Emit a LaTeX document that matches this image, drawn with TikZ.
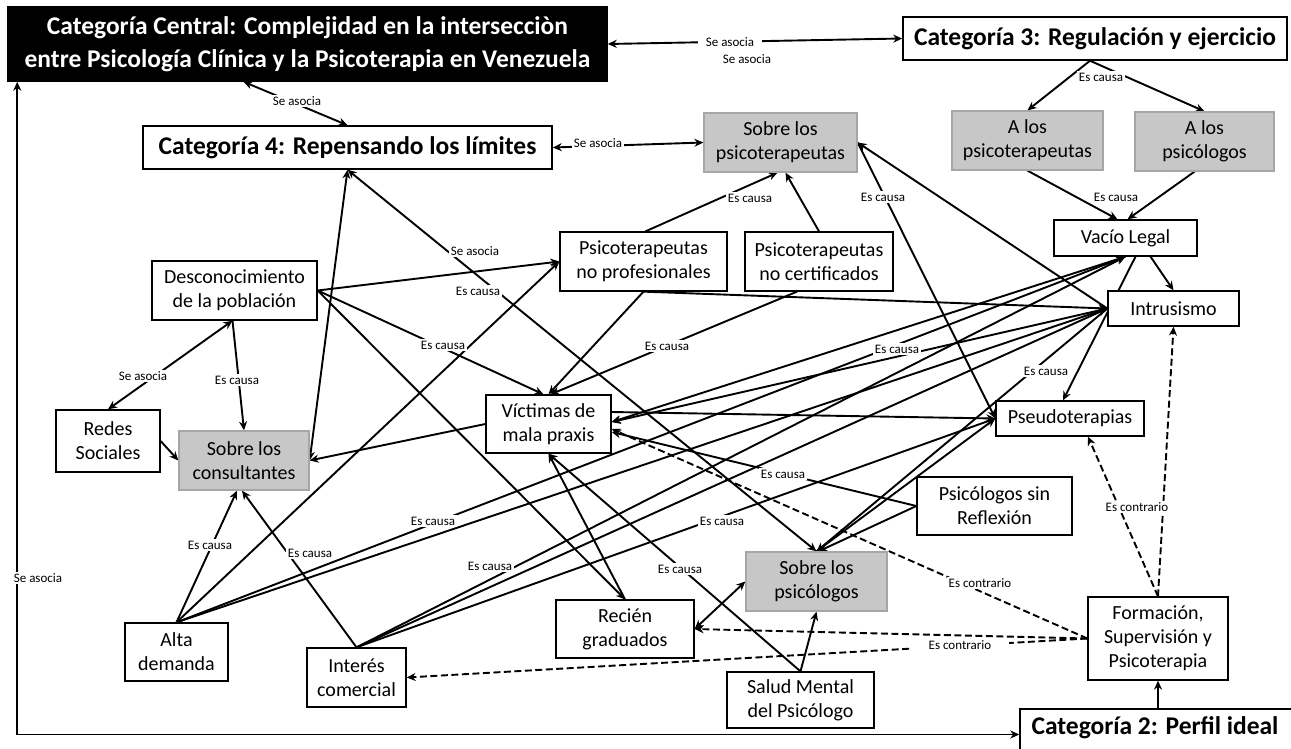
\documentclass[tikz,border=0pt]{standalone}
\usepackage{fontspec}
\setmainfont{Carlito}
\usetikzlibrary{arrows.meta,calc}
\pgfdeclarelayer{bg}
\pgfsetlayers{bg,main}
\begin{document}
\begin{tikzpicture}[x=1pt,y=-1pt,
  box/.style={draw=black,line width=1.3pt,fill=white,inner sep=0pt,align=center,font=\fontsize{20}{24}\selectfont},
  gbox/.style={box,draw=black!35,fill=black!22},
  cat/.style={draw=black,line width=1.5pt,fill=white,inner sep=0pt,align=center,font=\bfseries\fontsize{25.5}{33}\selectfont},
  lab/.style={fill=white,inner sep=1.5pt,font=\fontsize{13}{15}\selectfont},
  tip/.style={},
  conn/.style={line width=1.9pt,-{Stealth[length=9pt,width=8pt]}},
  both/.style={line width=1.9pt,{Stealth[length=9pt,width=8pt]}-{Stealth[length=9pt,width=8pt]}},
  contra/.style={conn,dash pattern=on 7pt off 3.5pt},
]
\useasboundingbox (0,0) rectangle (1291,749);

% nodes
\node[cat,fill=black,text=white,minimum width=599pt,minimum height=74pt] (cen) at (307.5,44) {Categoría Central: Complejidad en la intersecciòn\\entre Psicología Clínica y la Psicoterapia en Venezuela};
\node[cat,minimum width=384pt,minimum height=43pt] (cat3) at (1095,38.5) {Categoría 3: Regulación y ejercicio};
\node[cat,minimum width=409pt,minimum height=43pt] (cat4) at (347.5,147.5) {Categoría 4: Repensando los límites};
\node[cat,minimum width=280pt,minimum height=51pt] (cat2) at (1160,734.5) {};
\node[font=\bfseries\fontsize{25.5}{33}\selectfont,inner sep=0pt] (cat2t) at (1155,728) {Categoría 2: Perfil ideal};

\node[gbox,minimum width=153pt,minimum height=59pt] (spt) at (780.5,142.5) {Sobre los\\psicoterapeutas};
\node[gbox,minimum width=151pt,minimum height=59pt] (apt) at (1027.5,140.5) {A los\\psicoterapeutas};
\node[gbox,minimum width=139pt,minimum height=59pt] (aps) at (1204.5,141.5) {A los\\psicólogos};
\node[box,minimum width=143pt,minimum height=36pt] (vac) at (1125.5,238) {Vacío Legal};
\node[box,minimum width=131pt,minimum height=35pt] (intr) at (1173.5,308.5) {Intrusismo};
\node[box,minimum width=148pt,minimum height=35pt] (pseu) at (1070,418.5) {Pseudoterapias};
\node[box,minimum width=167pt,minimum height=59pt] (pnp) at (643.5,261.5) {Psicoterapeutas\\no profesionales};
\node[box,minimum width=148pt,minimum height=59pt] (pnc) at (819,261.5) {Psicoterapeutas\\no certificados};
\node[box,minimum width=165pt,minimum height=59pt] (desc) at (234.5,290.5) {Desconocimiento\\de la población};
\node[box,minimum width=104pt,minimum height=62pt] (redes) at (108,441) {Redes\\Sociales};
\node[gbox,minimum width=130pt,minimum height=59pt] (cons) at (244,460.5) {Sobre los\\consultantes};
\node[box,minimum width=125pt,minimum height=58pt] (vic) at (548.5,424) {Víctimas de\\mala praxis};
\node[box,minimum width=155pt,minimum height=58pt] (psr) at (994.5,506) {Psicólogos sin\\Reflexión};
\node[gbox,minimum width=141pt,minimum height=59pt] (sps) at (816.5,581.5) {Sobre los\\psicólogos};
\node[box,minimum width=103pt,minimum height=58pt] (alta) at (176.5,652) {Alta\\demanda};
\node[box,minimum width=99pt,minimum height=59pt] (inter) at (356.5,677.5) {Interés\\comercial};
\node[box,minimum width=138pt,minimum height=58pt] (rec) at (625,629) {Recién\\graduados};
\node[box,minimum width=147pt,minimum height=56pt] (salud) at (800.5,700) {Salud Mental\\del Psicólogo};
\node[box,minimum width=140pt,minimum height=83pt] (form) at (1158,638.5) {Formación,\\Supervisión y\\Psicoterapia};

% connectors
\begin{pgfonlayer}{bg}
\fill[white] (0,0) rectangle (1291,749);
\draw[both] (cen.east) -- (cat3.west);
\draw[both] ([xshift=-64pt]cen.south) -- (cat4.north);
\draw[both] (cat4.east) -- (spt.west);
\draw[conn] ([xshift=-5pt]cat3.south) -- (apt.north);
\draw[conn] ([xshift=-5pt]cat3.south) -- (aps.north);
\draw[conn] (apt.south) -- ([xshift=-8pt]vac.north);
\draw[conn] ([xshift=-10pt]aps.south) -- ([xshift=2pt]vac.north);
\draw[conn] ([xshift=2pt]pnp.north) -- ([xshift=-3pt]spt.south);
\draw[conn] (pnc.north) -- ([xshift=5pt]spt.south);
\draw[conn] (spt.east) -- (pseu.west);
\draw[conn] (intr.west) -- (spt.east);
\draw[conn] ([xshift=25pt]vac.south) -- (intr.north);
\draw[conn] ([xshift=10pt]vac.south) -- ([xshift=-7pt]pseu.north);
\draw[conn] (intr.west) -- (sps.north);
\draw[conn] (sps.north) -- (pseu.west);
\draw[conn] (psr.west) -- ([xshift=2pt]sps.north);
\draw[conn] (psr.west) -- ([yshift=-8pt]vic.east);
\draw[conn] ([yshift=12pt]vic.east) -- (pseu.west);
\draw[conn] (vac.south) -- ([yshift=2pt]vic.east);
\draw[conn] (intr.west) -- ([yshift=2pt]vic.east);
\draw[conn] (alta.north) -- ([xshift=-7pt]cons.south);
\draw[conn] (inter.north) -- ([xshift=-2pt]cons.south);
\draw[conn] (alta.north) -- (pnp.west);
\draw[conn] (desc.east) -- ([xshift=-5pt]vic.north);
\draw[conn] (desc.east) -- (pnp.west);
\draw[conn] (desc.east) -- (rec.north);
\draw[conn] ([xshift=-2pt]desc.south) -- (cons.north);
\draw[both] (redes.north) -- ([xshift=-2pt]desc.south);
\draw[conn] (redes.east) -- (cons.west);
\draw[both] (cons.east) -- (cat4.south);
\draw[conn] (vic.west) -- (cons.east);
\draw[both] (cat4.south) -- (sps.north);
\draw[conn] (pnp.south) -- (vic.north);
\draw[conn] ([xshift=-22pt]pnc.south) -- ([xshift=2pt]vic.north);
\draw[conn] (pnp.south) -- (intr.west);
\draw[conn] (alta.north) -- (vac.south);
\draw[conn] (alta.north) -- (intr.west);
\draw[conn] (inter.north) -- (intr.west);
\draw[conn] (inter.north) -- (vac.south);
\draw[conn] (inter.north) -- (pseu.west);
\draw[conn] (rec.north) -- (vic.south);
\draw[conn] (salud.north) -- (vic.south);
\draw[conn] (salud.north) -- (sps.south);
\draw[both] (rec.east) -- (sps.west);
\draw[contra] (form.west) -- (rec.east);
\draw[contra] (form.west) -- (inter.east);
\draw[contra] (form.west) -- ([yshift=-5pt]vic.east);
\draw[contra] (form.north) -- ([xshift=18pt]pseu.south);
\draw[contra] (form.north) -- (intr.south);
\draw[conn] (cat2.north -| form.south) -- (form.south);
\draw[both] ([xshift=10pt]cen.south west) |- (cat2.west);
\end{pgfonlayer}

% labels
\node[lab,inner xsep=8pt] (l1) at (730,42) {Se asocia};
\node[lab] (l2) at (747,59) {Se asocia};
\node[lab] (l3) at (297,101) {Se asocia};
\node[lab] (l4) at (598,143) {Se asocia};
\node[lab] (l5) at (475,251) {Se asocia};
\node[lab] (l6) at (143,376) {Se asocia};
\node[lab] (l7) at (38,578) {Se asocia};
\node[lab] (e1) at (1101,77) {Es causa};
\node[lab] (e2) at (1116,197) {Es causa};
\node[lab] (e3) at (750,198) {Es causa};
\node[lab] (e4) at (883,197) {Es causa};
\node[lab] (e5) at (478,291) {Es causa};
\node[lab] (e6) at (443,345) {Es causa};
\node[lab] (e7) at (667,346) {Es causa};
\node[lab] (e8) at (897,349) {Es causa};
\node[lab] (e9) at (1046,371) {Es causa};
\node[lab] (e10) at (237,380) {Es causa};
\node[lab] (e11) at (783,474) {Es causa};
\node[lab] (e12) at (433,521) {Es causa};
\node[lab] (e13) at (722,521) {Es causa};
\node[lab] (e14) at (210,545) {Es causa};
\node[lab] (e15) at (310,553) {Es causa};
\node[lab] (e16) at (490,566) {Es causa};
\node[lab] (e17) at (680,569) {Es causa};
\node[lab] (c1) at (1137,507) {Es contrario};
\node[lab] (c2) at (980,583) {Es contrario};
\node[lab,inner xsep=18pt] (c3) at (960,645) {Es contrario};
\end{tikzpicture}
\end{document}
